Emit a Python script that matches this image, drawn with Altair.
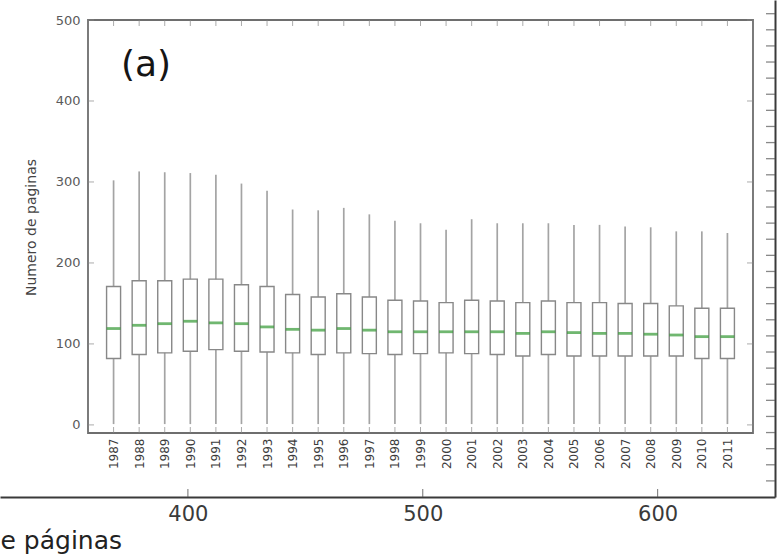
import altair as alt
import pandas as pd

# ---- data ----
years = [1987, 1988, 1989, 1990, 1991, 1992, 1993, 1994, 1995, 1996, 1997, 1998, 1999,
         2000, 2001, 2002, 2003, 2004, 2005, 2006, 2007, 2008, 2009, 2010, 2011]
whisker_hi = [302, 313, 312, 311, 309, 298, 289, 266, 265, 268, 260, 252, 249,
              241, 254, 249, 249, 249, 247, 247, 245, 244, 239, 239, 237]
q3 = [171, 178, 178, 180, 180, 173, 171, 161, 158, 162, 158, 154, 153,
      151, 154, 153, 151, 153, 151, 151, 150, 150, 147, 144, 144]
median = [119, 123, 125, 128, 126, 125, 121, 118, 117, 119, 117, 115, 115,
          115, 115, 115, 113, 115, 114, 113, 113, 112, 111, 109, 109]
q1 = [82, 87, 89, 91, 93, 91, 90, 89, 87, 89, 88, 87, 88,
      89, 88, 87, 85, 87, 85, 85, 85, 85, 85, 82, 82]
whisker_lo = [1, 1, 1, 1, 1, 1, 1, 1, 1, 1, 1, 1, 1,
              1, 1, 1, 1, 1, 1, 1, 1, 1, 1, 1, 1]

y_ticks_inner = [0, 100, 200, 300, 400, 500]
x_ticks_outer = [400, 500, 600]
y_ticks_outer = [1, 2, 3, 4, 5, 6, 7, 8, 9, 10, 11, 12, 13, 14, 15,
                 16, 17, 18, 19, 20, 21, 22, 23, 24, 25, 26, 27, 28, 29, 30]

box_df = pd.DataFrame({"year": years, "hi": whisker_hi, "q3": q3,
                       "med": median, "q1": q1, "lo": whisker_lo})
ytick_df = pd.DataFrame({"v": y_ticks_inner})
one = pd.DataFrame({"a": [0]})
xo_df = pd.DataFrame({"v": x_ticks_outer})
yo_df = pd.DataFrame({"v": y_ticks_outer})

FONT = "DejaVu Sans"
X_IN = alt.Scale(domain=[1986, 2012], nice=False, zero=False, padding=0)
Y_IN = alt.Scale(domain=[-10, 500], nice=False, zero=False)
X_OUT = alt.Scale(domain=[320, 650], range=[-88, 687], nice=False, zero=False)
Y_OUT = alt.Scale(domain=[0, 30.85], range=[477, -20], nice=False, zero=False)

XA_IN = alt.Axis(values=years, format="d", labelAngle=270, orient="bottom",
                 domain=False, ticks=False, grid=False, labelPadding=5, labelFontSize=12,
                 labelFont=FONT, labelColor="#3c3c3c", labelOverlap=False, labelFlush=False,
                 title="")
YA_IN = alt.Axis(values=y_ticks_inner, orient="left", domain=False, ticks=False,
                 grid=False, labelPadding=8, labelFontSize=13, labelFont=FONT,
                 labelColor="#5a5a5a", labelFlush=False, title="Numero de paginas",
                 titleFont=FONT, titleFontSize=14, titleFontWeight="normal",
                 titleColor="#444", titleX=-57, titleY=207, titleAlign="center",
                 titleBaseline="middle")
XA_OUT = alt.Axis(values=x_ticks_outer, format="d", orient="bottom", offset=64, grid=False,
                  ticks=False, domain=True, domainColor="#3a3a3a", domainWidth=2,
                  labelPadding=6, labelFontSize=21, labelFont=FONT, labelColor="#3a3a3a",
                  labelFlush=False, title="e páginas", titleFont=FONT, titleFontSize=25,
                  titleFontWeight="normal", titleColor="#222", titleAnchor="start",
                  titleAlign="left", titleX=-88, titleY=51, titleBaseline="alphabetic")
YA_OUT = alt.Axis(orient="right", offset=22, grid=False, ticks=False, labels=False,
                  domain=True, domainColor="#3a3a3a", domainWidth=2, title="")


def xin(field=None, datum=None):
    if datum is not None:
        return alt.XDatum(datum, type="quantitative", scale=X_IN, axis=XA_IN)
    return alt.X(field, type="quantitative", scale=X_IN, axis=XA_IN)


def yin(field=None, datum=None):
    if datum is not None:
        return alt.YDatum(datum, type="quantitative", scale=Y_IN, axis=YA_IN)
    return alt.Y(field, type="quantitative", scale=Y_IN, axis=YA_IN)


def xout(field=None, datum=None):
    if datum is not None:
        return alt.XDatum(datum, type="quantitative", scale=X_OUT, axis=XA_OUT)
    return alt.X(field, type="quantitative", scale=X_OUT, axis=XA_OUT)


def yout(field=None, datum=None):
    if datum is not None:
        return alt.YDatum(datum, type="quantitative", scale=Y_OUT, axis=YA_OUT)
    return alt.Y(field, type="quantitative", scale=Y_OUT, axis=YA_OUT)


whisk = alt.Chart(box_df).mark_rule(color="#a4a4a4", strokeWidth=1.7).encode(
    x=xin("year"), y=yin("lo"), y2="hi:Q")
box = alt.Chart(box_df).mark_bar(size=14, fill="white", stroke="#888888", strokeWidth=1.4).encode(
    x=xin("year"), y=yin("q1"), y2="q3:Q")
med = alt.Chart(box_df).mark_tick(orient="horizontal", size=14, thickness=2.8, color="#339933").encode(
    x=xin("year"), y=yin("med"))
frame = alt.Chart(one).mark_rect(fillOpacity=0, stroke="#6e6e6e", strokeWidth=1.8).encode(
    x=xin(datum=1986), x2=alt.X2Datum(2012), y=yin(datum=-10), y2=alt.Y2Datum(500))
t_bottom = alt.Chart(box_df).mark_tick(orient="vertical", size=6, thickness=1, yOffset=-3, color="#888").encode(
    x=xin("year"), y=yin(datum=-10))
t_top = alt.Chart(box_df).mark_tick(orient="vertical", size=6, thickness=1, yOffset=3, color="#888").encode(
    x=xin("year"), y=yin(datum=500))
t_left = alt.Chart(ytick_df).mark_tick(orient="horizontal", size=6, thickness=1, xOffset=3, color="#888").encode(
    x=xin(datum=1986), y=yin("v"))
t_right = alt.Chart(ytick_df).mark_tick(orient="horizontal", size=6, thickness=1, xOffset=-3, color="#888").encode(
    x=xin(datum=2012), y=yin("v"))
label_a = alt.Chart(one).mark_text(text="(a)", font=FONT, fontSize=36, align="center",
                                   baseline="middle", color="#151515").encode(
    x=xin(datum=1988.27), y=yin(datum=444))

inner = alt.layer(whisk, box, med, frame, t_bottom, t_top, t_left, t_right, label_a)

o_bottom = alt.Chart(xo_df).mark_tick(orient="vertical", size=8, thickness=1.2, yOffset=-4, color="#555").encode(
    x=xout("v"), y=yout(datum=0))
o_right = alt.Chart(yo_df).mark_tick(orient="horizontal", size=9, thickness=1.3, xOffset=-4.5, color="#555").encode(
    x=xout(datum=650), y=yout("v"))
outer = alt.layer(o_bottom, o_right)

chart = alt.layer(inner, outer).resolve_scale(
    x="independent", y="independent"
).properties(
    width=665, height=413,
    padding={"left": 88, "top": 20, "right": 25, "bottom": 123},
    autosize=alt.AutoSizeParams(type="none"),
    background="white",
).configure_view(strokeWidth=0)

chart.save("out.html", embed_options={"renderer": "svg", "actions": False})
